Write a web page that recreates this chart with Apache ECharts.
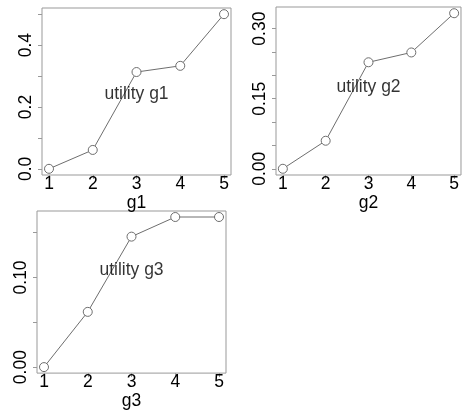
<!DOCTYPE html>
<html>
<head>
<meta charset="utf-8">
<script src="https://cdn.jsdelivr.net/npm/echarts@6/dist/echarts.min.js"></script>
<style>
  html, body { margin: 0; padding: 0; background: #fff; }
  #chart { width: 462px; height: 411px; }
</style>
</head>
<body>
<div id="chart"></div>
<script>
// data
const xValues = [1, 2, 3, 4, 5];
const g1 = [0, 0.061, 0.313, 0.333, 0.5];
const g2 = [0, 0.06, 0.228, 0.249, 0.333];
const g3 = [0, 0.0616, 0.1455, 0.1674, 0.1674];

const yTicks1 = [0, 0.1, 0.2, 0.3, 0.4, 0.5];
const yLabels1 = [0, 0.2, 0.4];
const yTicks2 = [0, 0.05, 0.1, 0.15, 0.2, 0.25, 0.3];
const yLabels2 = [0, 0.15, 0.3];
const yTicks3 = [0, 0.05, 0.1, 0.15];
const yLabels3 = [0, 0.1];

const names = ["g1", "g2", "g3"];
const panelData = [g1, g2, g3];
const panelTicks = [yTicks1, yTicks2, yTicks3];
const panelLabels = [yLabels1, yLabels2, yLabels3];
const panelDigits = [1, 2, 2];

const grids = [
  { left: 42, top: 8, width: 189, height: 167 },
  { left: 276, top: 7, width: 185, height: 168 },
  { left: 37, top: 211, width: 189, height: 168 },
];

const font = "Liberation Sans";
const boxColor = "#999";
const lineColor = "#6e6e6e";
const textColor = "#000";

// R style 4% range expansion
function expand(arr) {
  const lo = Math.min(...arr), hi = Math.max(...arr);
  const pad = (hi - lo) * 0.04;
  return [lo - pad, hi + pad];
}
const xr = expand(xValues);

const option = {
  animation: false,
  backgroundColor: "#fff",
  grid: [],
  xAxis: [],
  yAxis: [],
  series: [],
};

names.forEach((nm, i) => {
  const d = panelData[i];
  const yr = expand(d);
  const mean = d.reduce((a, b) => a + b, 0) / d.length;
  option.grid.push(Object.assign({ show: true, borderColor: boxColor, borderWidth: 1 }, grids[i]));
  option.xAxis.push({
    gridIndex: i,
    type: "value",
    min: xr[0],
    max: xr[1],
    name: nm,
    nameLocation: "middle",
    nameGap: 6,
    nameTextStyle: { fontFamily: font, fontSize: 17.5, color: textColor, verticalAlign: "top" },
    axisLine: { show: false, onZero: false },
    axisTick: { show: true, customValues: xValues, length: 4, lineStyle: { color: boxColor } },
    axisLabel: { customValues: xValues, margin: 0, fontFamily: font, fontSize: 17.5, color: textColor },
    splitLine: { show: false },
  });
  option.yAxis.push({
    gridIndex: i,
    type: "value",
    min: yr[0],
    max: yr[1],
    axisLine: { show: false, onZero: false },
    axisTick: { show: true, customValues: panelTicks[i], length: 4, lineStyle: { color: boxColor } },
    axisLabel: {
      customValues: panelLabels[i],
      rotate: 90,
      margin: 7,
      fontFamily: font,
      fontSize: 17.5,
      color: textColor,
      formatter: (v) => Number(v).toFixed(panelDigits[i]),
    },
    splitLine: { show: false },
  });
  option.series.push({
    type: "line",
    xAxisIndex: i,
    yAxisIndex: i,
    data: xValues.map((x, k) => [x, d[k]]),
    symbol: "circle",
    symbolSize: 9,
    showSymbol: true,
    lineStyle: { color: lineColor, width: 1 },
    itemStyle: { color: "#fff", borderColor: lineColor, borderWidth: 1 },
    z: 2,
  });
  option.series.push({
    type: "scatter",
    xAxisIndex: i,
    yAxisIndex: i,
    data: [[3, mean]],
    symbolSize: 1,
    itemStyle: { color: "transparent" },
    label: {
      show: true,
      position: "inside",
      formatter: "utility " + nm,
      fontFamily: font,
      fontSize: 17.5,
      color: textColor,
    },
    z: 3,
  });
});

const chart = echarts.init(document.getElementById("chart"));
chart.setOption(option);
</script>
</body>
</html>
